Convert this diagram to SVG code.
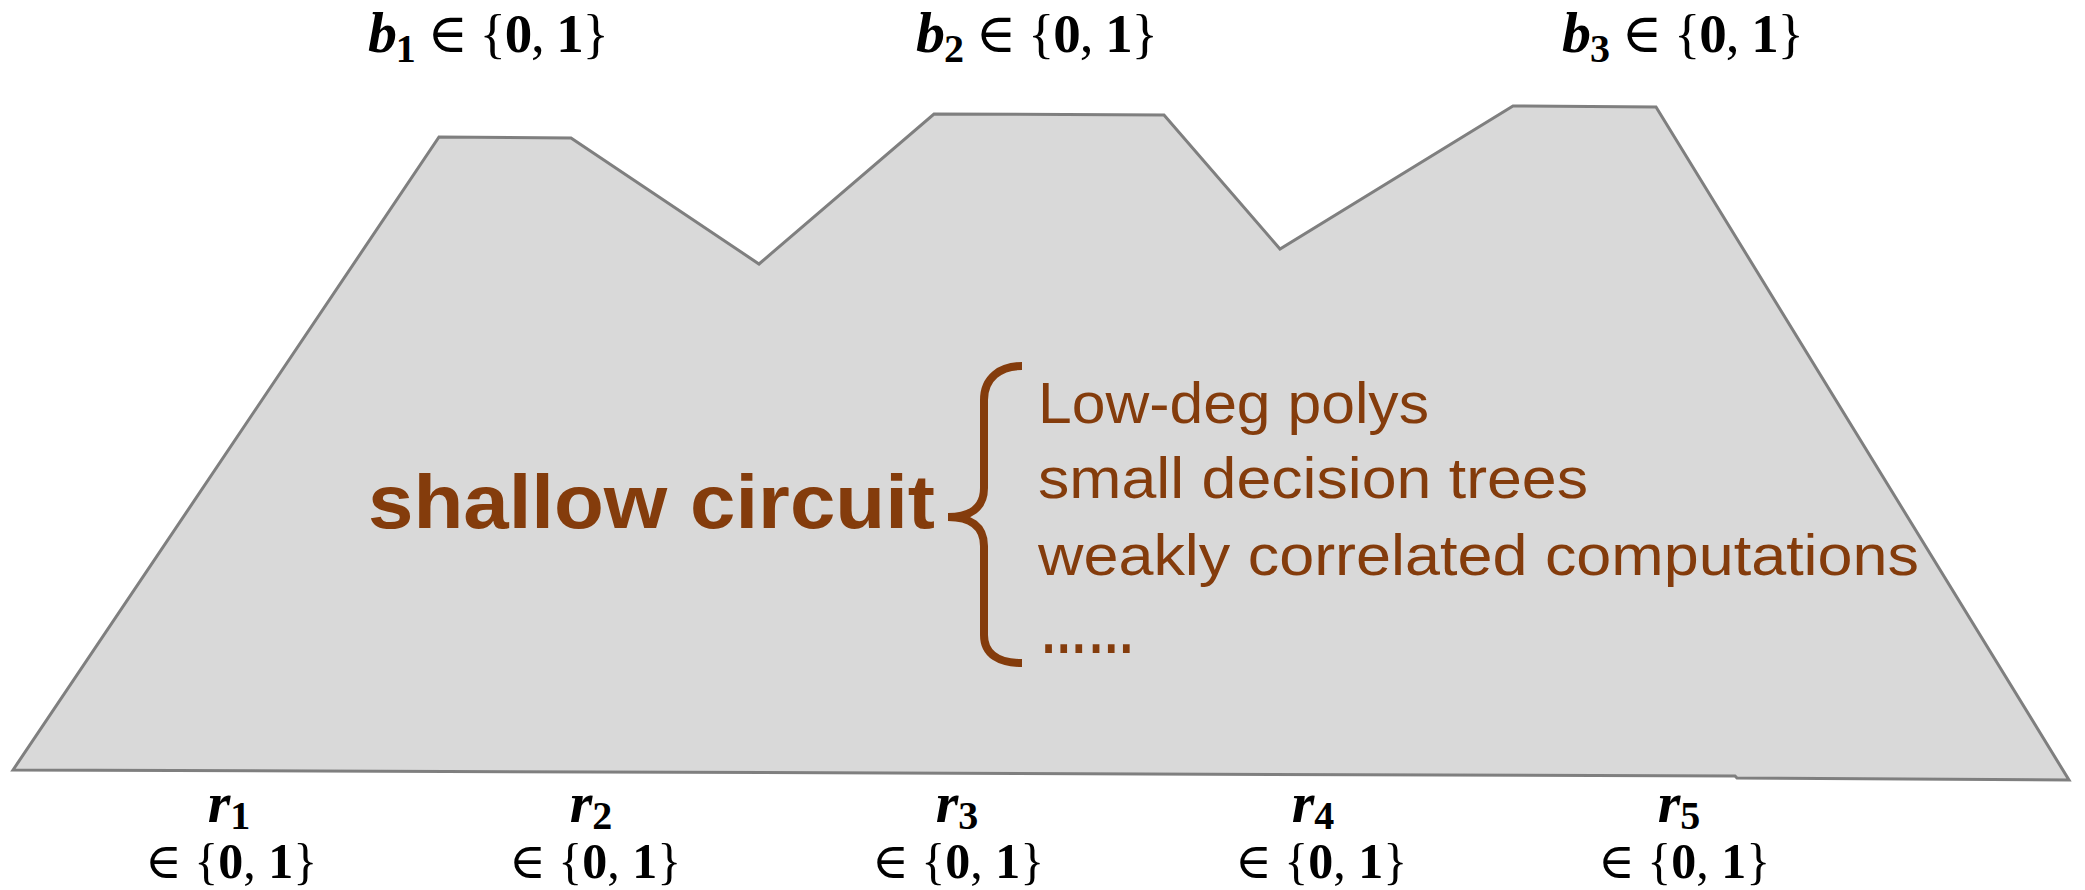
<svg xmlns="http://www.w3.org/2000/svg" width="2085" height="890" viewBox="0 0 2085 890">
<style>
.math{font-family:"Liberation Serif","DejaVu Serif",serif;fill:#000;font-size:55px}
.bi{font-weight:bold;font-style:italic;font-size:58px}
.sub{font-weight:bold;font-size:40px}
.bd{font-weight:bold}
.set{font-size:50px}
.lbl{font-family:"Liberation Sans",Arial,sans-serif;fill:#843C0C}
</style>
<rect width="2085" height="890" fill="#fff"/>
<g id="circuit">
<path d="M13,770 L439,137 L571,138 L759,264 L934,114 L1164,115 L1280,249 L1513,106 L1656,107 L2069,780 L1737,778 L1735,776 Z" fill="#D9D9D9" stroke="#7F7F7F" stroke-width="3" stroke-linejoin="miter"/>
</g>
<g id="outputs">
<text class="math" x="368" y="52" textLength="241"><tspan class="bi">b</tspan><tspan class="sub" dy="10">1</tspan><tspan dy="-10"> ∈ {</tspan><tspan class="bd">0</tspan>, <tspan class="bd">1</tspan>}</text>
<text class="math" x="916" y="52" textLength="242"><tspan class="bi">b</tspan><tspan class="sub" dy="10">2</tspan><tspan dy="-10"> ∈ {</tspan><tspan class="bd">0</tspan>, <tspan class="bd">1</tspan>}</text>
<text class="math" x="1562" y="52" textLength="242"><tspan class="bi">b</tspan><tspan class="sub" dy="10">3</tspan><tspan dy="-10"> ∈ {</tspan><tspan class="bd">0</tspan>, <tspan class="bd">1</tspan>}</text>
</g>
<g id="inputs">
<text class="math" x="229" y="822" text-anchor="middle"><tspan class="bi">r</tspan><tspan class="sub" dy="7">1</tspan></text>
<text class="math set" x="231" y="878" text-anchor="middle">∈ {<tspan class="bd">0</tspan>, <tspan class="bd">1</tspan>}</text>
<text class="math" x="591" y="822" text-anchor="middle"><tspan class="bi">r</tspan><tspan class="sub" dy="7">2</tspan></text>
<text class="math set" x="595" y="878" text-anchor="middle">∈ {<tspan class="bd">0</tspan>, <tspan class="bd">1</tspan>}</text>
<text class="math" x="957" y="822" text-anchor="middle"><tspan class="bi">r</tspan><tspan class="sub" dy="7">3</tspan></text>
<text class="math set" x="958" y="878" text-anchor="middle">∈ {<tspan class="bd">0</tspan>, <tspan class="bd">1</tspan>}</text>
<text class="math" x="1313" y="822" text-anchor="middle"><tspan class="bi">r</tspan><tspan class="sub" dy="7">4</tspan></text>
<text class="math set" x="1321" y="878" text-anchor="middle">∈ {<tspan class="bd">0</tspan>, <tspan class="bd">1</tspan>}</text>
<text class="math" x="1679" y="822" text-anchor="middle"><tspan class="bi">r</tspan><tspan class="sub" dy="7">5</tspan></text>
<text class="math set" x="1684" y="878" text-anchor="middle">∈ {<tspan class="bd">0</tspan>, <tspan class="bd">1</tspan>}</text>
</g>
<g id="annotation">
<text class="lbl" x="368" y="528" font-size="76" font-weight="bold" textLength="567" lengthAdjust="spacingAndGlyphs">shallow circuit</text>
<path d="M1022,366 C1000,366 984,378 984,400 L984,488 C984,508 970,517 948,517 C970,517 984,526 984,546 L984,635 C984,655 1000,663 1022,663" fill="none" stroke="#843C0C" stroke-width="8"/>
<text class="lbl" x="1038" y="423" font-size="57" textLength="391" lengthAdjust="spacingAndGlyphs">Low-deg polys</text>
<text class="lbl" x="1038" y="498" font-size="57" textLength="550" lengthAdjust="spacingAndGlyphs">small decision trees</text>
<text class="lbl" x="1038" y="575" font-size="57" textLength="881" lengthAdjust="spacingAndGlyphs">weakly correlated computations</text>
<text class="lbl" x="1040" y="653" font-size="60" font-weight="bold" textLength="95" lengthAdjust="spacingAndGlyphs">……</text>
</g>
</svg>
